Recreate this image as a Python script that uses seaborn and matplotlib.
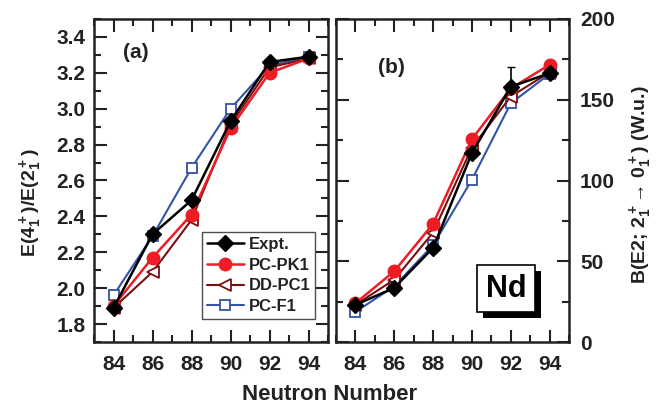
import numpy as np
import pandas as pd
import seaborn as sns
import matplotlib
matplotlib.use("Agg")
import matplotlib.pyplot as plt
from matplotlib.ticker import MultipleLocator, FormatStrFormatter
from matplotlib.lines import Line2D
import matplotlib.patheffects as pe

# ---------------- data ----------------
neutrons = [84, 86, 88, 90, 92, 94]

ratio_expt = [1.89, 2.30, 2.49, 2.93, 3.26, 3.29]
ratio_pcpk1 = [1.90, 2.17, 2.41, 2.89, 3.20, 3.28]
ratio_ddpc1 = [1.89, 2.09, 2.38, 2.91, 3.23, 3.28]
ratio_pcf1 = [1.96, 2.29, 2.67, 3.00, 3.24, 3.29]

be2_expt = [23.0, 33.5, 58.3, 117.0, 158.0, 166.5]
be2_expt_err = [0, 0, 0, 0, 12.5, 0]
be2_pcpk1 = [24.0, 43.8, 73.2, 125.6, 157.0, 171.7]
be2_ddpc1 = [23.0, 38.6, 67.8, 120.4, 152.0, 167.0]
be2_pcf1 = [18.6, 34.5, 60.0, 100.5, 147.8, 166.0]

series_names = ["Expt.", "PC-PK1", "DD-PC1", "PC-F1"]

# ---------------- style ----------------
sns.set_theme(style="ticks")
plt.rcParams["font.family"] = ["Liberation Sans", "DejaVu Sans"]
plt.rcParams["font.weight"] = "bold"
plt.rcParams["mathtext.fontset"] = "custom"
plt.rcParams["mathtext.rm"] = "Liberation Sans:bold"
plt.rcParams["mathtext.bf"] = "Liberation Sans:bold"
plt.rcParams["mathtext.default"] = "bf"

styles = {
    "PC-F1": dict(color="#3553a6", marker="s", ms=7, mfc="white", mec="#3553a6", mew=1.3, lw=1.5),
    "DD-PC1": dict(color="#7a0f12", marker="<", ms=9, mfc="white", mec="#7a0f12", mew=1.3, lw=1.5),
    "PC-PK1": dict(color="#ee1c25", marker="o", ms=9, mfc="#ee1c25", mec="#ee1c25", lw=1.8),
    "Expt.": dict(color="black", marker="D", ms=8, mfc="black", mec="black", lw=1.8),
}

fig = plt.figure(figsize=(6.6, 4.05), dpi=100)
axL = fig.add_axes([94 / 660, 63 / 405, 234 / 660, 323 / 405])
axR = fig.add_axes([336 / 660, 63 / 405, 233 / 660, 323 / 405])

def draw(ax, data):
    for name in ["PC-F1", "DD-PC1", "PC-PK1", "Expt."]:
        df = pd.DataFrame({"N": neutrons, "v": data[name]})
        st = styles[name]
        sns.lineplot(data=df, x="N", y="v", ax=ax, color=st["color"], lw=st["lw"],
                     marker=st["marker"], markersize=st["ms"],
                     markerfacecolor=st["mfc"], markeredgecolor=st["mec"],
                     markeredgewidth=st.get("mew", 1.0), legend=False, zorder=3)

draw(axL, {"Expt.": ratio_expt, "PC-PK1": ratio_pcpk1, "DD-PC1": ratio_ddpc1, "PC-F1": ratio_pcf1})
draw(axR, {"Expt.": be2_expt, "PC-PK1": be2_pcpk1, "DD-PC1": be2_ddpc1, "PC-F1": be2_pcf1})

# error bar on experimental B(E2)
err_idx = [i for i, e in enumerate(be2_expt_err) if e > 0]
axR.errorbar([neutrons[i] for i in err_idx], [be2_expt[i] for i in err_idx],
             yerr=[be2_expt_err[i] for i in err_idx], fmt="none", ecolor="black",
             elinewidth=1.2, capsize=3, zorder=2)

for ax in (axL, axR):
    ax.set_xlim(83, 95)
    ax.xaxis.set_major_locator(MultipleLocator(2))
    ax.xaxis.set_minor_locator(MultipleLocator(1))
    ax.tick_params(which="both", direction="in", top=True, right=True, width=1.5, colors="#222222")
    ax.tick_params(which="major", length=9)
    ax.tick_params(which="minor", length=5)
    ax.tick_params(axis="x", labelsize=15, pad=9)
    ax.tick_params(axis="y", labelsize=15)
    for s in ax.spines.values():
        s.set_linewidth(1.8)
        s.set_color("#222222")
    ax.set_xlabel("")
    ax.set_ylabel("")

axL.set_yticks([1.8, 2.0, 2.2, 2.4, 2.6, 2.8, 3.0, 3.2, 3.4])
axL.yaxis.set_minor_locator(MultipleLocator(0.1))
axL.yaxis.set_major_formatter(FormatStrFormatter("%.1f"))
axL.tick_params(axis="y", pad=6)
axL.set_ylim(1.7, 3.5)

axR.set_ylim(0, 200)
axR.yaxis.set_major_locator(MultipleLocator(50))
axR.yaxis.set_minor_locator(MultipleLocator(25))
axR.yaxis.tick_right()
axR.tick_params(axis="y", which="both", left=True, right=True, labelleft=False, labelright=True, pad=8)

for ax in (axL, axR):
    for lab in ax.get_xticklabels() + ax.get_yticklabels():
        lab.set_fontweight("bold")
        lab.set_color("#222222")

axL.text(0.18, 0.895, "(a)", transform=axL.transAxes, fontsize=15, fontweight="bold",
         ha="center", va="center", color="#222222")
axR.text(0.24, 0.85, "(b)", transform=axR.transAxes, fontsize=15, fontweight="bold",
         ha="center", va="center", color="#222222")

t = axR.text(0.73, 0.165, "Nd", transform=axR.transAxes, fontsize=22, fontweight="bold",
             ha="center", va="center", color="black",
             bbox=dict(boxstyle="square,pad=0.28", fc="white", ec="black", lw=1.2))
t.get_bbox_patch().set_path_effects([pe.withSimplePatchShadow(offset=(4, -4), shadow_rgbFace="black", alpha=1.0)])

# legend
handles = []
for name in series_names:
    st = styles[name]
    handles.append(Line2D([0], [0], color=st["color"], lw=st["lw"], marker=st["marker"],
                          markersize=st["ms"], markerfacecolor=st["mfc"], markeredgecolor=st["mec"],
                          markeredgewidth=st.get("mew", 1.0)))
leg = axL.legend(handles, series_names, loc="lower right", bbox_to_anchor=(0.96, 0.06),
                 fontsize=12, frameon=True, fancybox=False, edgecolor="#222222",
                 handlelength=2.2, handletextpad=0.3, borderpad=0.3, labelspacing=0.35,
                 borderaxespad=0.2)
leg.get_frame().set_linewidth(1.0)
for txt in leg.get_texts():
    txt.set_fontweight("bold")
    txt.set_color("#222222")

fig.text(330 / 660, 1 - 395 / 405, "Neutron Number", ha="center", va="center",
         fontsize=16, fontweight="bold", color="#222222")
fig.text(30 / 660, 0.5, r"E(4$_1^+$)/E(2$_1^+$)", rotation=90, ha="center", va="center",
         fontsize=14, fontweight="bold", color="#222222")
fig.text(641 / 660, 1 - 185 / 405, "B(E2; 2$_1^+$\u2192 0$_1^+$) (W.u.)", rotation=90,
         ha="center", va="center", fontsize=14, fontweight="bold", color="#222222")

fig.savefig("out.png", dpi=100)
